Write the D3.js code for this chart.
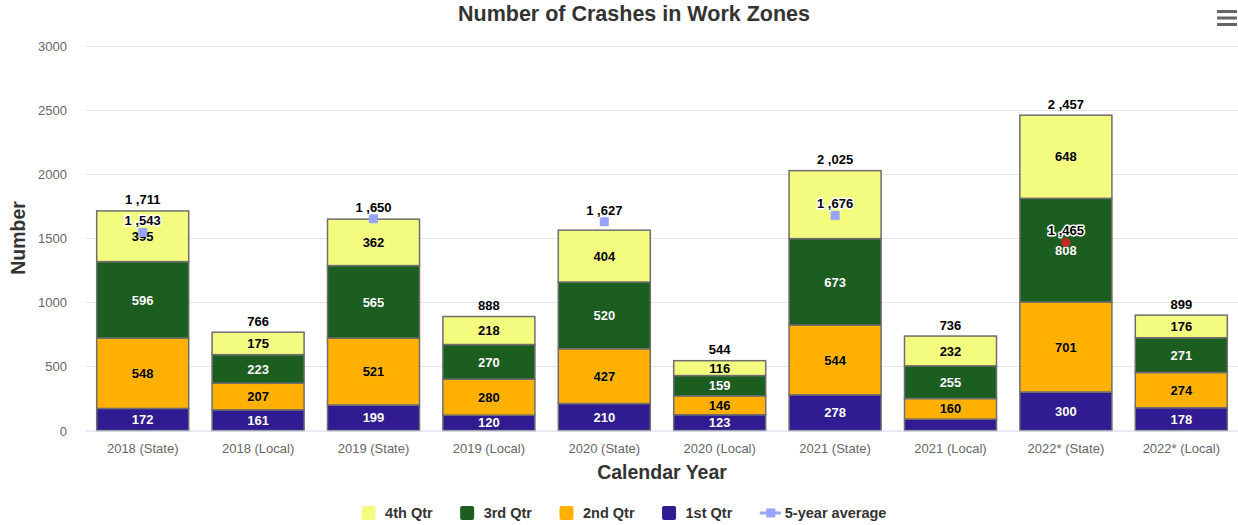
<!DOCTYPE html>
<html>
<head>
<meta charset="utf-8">
<script src="https://cdn.jsdelivr.net/npm/d3@7"></script>
<style>
  html, body { margin: 0; padding: 0; background: #fff; }
  svg { display: block; font-family: "Liberation Sans", Arial, Helvetica, sans-serif; }
</style>
</head>
<body>
<svg id="chart" width="1238" height="525"></svg>
<script>
const categories = ["2018 (State)", "2018 (Local)", "2019 (State)", "2019 (Local)", "2020 (State)", "2020 (Local)", "2021 (State)", "2021 (Local)", "2022* (State)", "2022* (Local)"];
const q1 = [172, 161, 199, 120, 210, 123, 278, 89, 300, 178];
const q2 = [548, 207, 521, 280, 427, 146, 544, 160, 701, 274];
const q3 = [596, 223, 565, 270, 520, 159, 673, 255, 808, 271];
const q4 = [395, 175, 362, 218, 404, 116, 530, 232, 648, 176];
const fiveYearAvg = [1543, null, 1650, null, 1627, null, 1676, null, 1465, null];
const yTicks = [0, 500, 1000, 1500, 2000, 2500, 3000];

const seriesDefs = [
  { name: "1st Qtr", values: q1, color: "#311b92", text: "#fff", outline: "#000" },
  { name: "2nd Qtr", values: q2, color: "#ffb000", text: "#000", outline: "#fff" },
  { name: "3rd Qtr", values: q3, color: "#1b5e20", text: "#fff", outline: "#000" },
  { name: "4th Qtr", values: q4, color: "#f4fc80", text: "#000", outline: "#fff" }
];
const avgColor = "#97a4fb";
const lastAvgColor = "#c62828";

const svg = d3.select("#chart");
const plot = { left: 85, right: 1239, top: 45.5, bottom: 430.5 };

const x = d3.scaleBand().domain(categories).range([plot.left, plot.right]).padding(0);
const y = d3.scaleLinear().domain([0, 3000]).range([plot.bottom, plot.top]);
const barW = x.bandwidth() * 0.806;
const barX = c => x(c) + (x.bandwidth() - barW) / 2;
const cx = c => x(c) + x.bandwidth() / 2;

function fmt(v) {
  if (v >= 1000) {
    const th = Math.floor(v / 1000);
    const rest = String(v % 1000).padStart(3, "0");
    return th + " ," + rest;
  }
  return String(v);
}
const overlaps = (a, b) => !(a.bottom < b.top || a.top > b.bottom);

// Grid
svg.append("g").selectAll("line").data(yTicks.filter(t => t > 0)).join("line")
  .attr("x1", plot.left).attr("x2", plot.right)
  .attr("y1", d => Math.round(y(d)) + 0.5).attr("y2", d => Math.round(y(d)) + 0.5)
  .attr("stroke", "#e6e6e6").attr("stroke-width", 1);

// Y axis labels
const yAxis = d3.axisLeft(y).tickValues(yTicks).tickSize(0).tickPadding(0).tickFormat(d3.format("d"));
const yg = svg.append("g").attr("transform", `translate(67,0)`).call(yAxis);
yg.select(".domain").remove();
yg.selectAll("text").attr("fill", "#666").attr("font-size", "13px").attr("font-family", null).attr("dy", "0.35em");

// Stacked data
const stackData = categories.map((c, i) => {
  const o = { cat: c };
  seriesDefs.forEach(s => o[s.name] = s.values[i]);
  return o;
});
const stack = d3.stack().keys(seriesDefs.map(s => s.name));
const layers = stack(stackData);

const barsG = svg.append("g");
layers.forEach((layer, li) => {
  const s = seriesDefs[li];
  barsG.append("g").selectAll("rect").data(layer).join("rect")
    .attr("x", d => barX(d.data.cat) + 0.5)
    .attr("width", barW - 1)
    .attr("y", d => y(d[1]))
    .attr("height", d => y(d[0]) - y(d[1]))
    .attr("fill", s.color)
    .attr("stroke", "#6e6e6e")
    .attr("stroke-width", 1.5);
});

// X axis line
svg.append("line").attr("x1", plot.left).attr("x2", plot.right)
  .attr("y1", plot.bottom + 0.5).attr("y2", plot.bottom + 0.5)
  .attr("stroke", "#ccd6eb").attr("stroke-width", 1);

// Average series points and their label boxes
const avgPts = categories.map((c, i) => ({ cat: c, v: fiveYearAvg[i], last: i === 8 })).filter(d => d.v != null);
const avgLabelBoxes = avgPts.map(d => {
  const ly = y(d.v) - 7;
  return { cat: d.cat, ly, top: ly - 11, bottom: ly + 1 };
});

// Data labels inside segments (hidden if too small or colliding with an average label)
const labelsG = svg.append("g");
layers.forEach((layer, li) => {
  const s = seriesDefs[li];
  const visible = layer.filter(d => {
    if (y(d[0]) - y(d[1]) < 13) return false;
    const my = (y(d[0]) + y(d[1])) / 2;
    const box = { top: my - 6, bottom: my + 6 };
    return !avgLabelBoxes.some(b => b.cat === d.data.cat && overlaps(box, b));
  });
  labelsG.append("g").selectAll("text").data(visible).join("text")
    .attr("x", d => cx(d.data.cat))
    .attr("y", d => (y(d[0]) + y(d[1])) / 2)
    .attr("dy", "0.36em")
    .attr("text-anchor", "middle")
    .attr("font-size", "13px").attr("font-weight", "bold")
    .attr("fill", s.text)
    .attr("stroke", s.outline).attr("stroke-width", 0.6).attr("stroke-opacity", 0.35)
    .attr("paint-order", "stroke")
    .text(d => d.data[s.name]);
});

// Stack totals (hidden when overlapping an average label)
const totalsG = svg.append("g");
stackData.forEach((d, i) => {
  const total = q1[i] + q2[i] + q3[i] + q4[i];
  const ly = y(total) - 6.5;
  const box = { top: ly - 11, bottom: ly + 1 };
  if (avgLabelBoxes.some(b => b.cat === d.cat && overlaps(box, b))) return;
  totalsG.append("text").attr("x", cx(d.cat)).attr("y", ly)
    .attr("text-anchor", "middle").attr("font-size", "13px").attr("font-weight", "bold")
    .attr("fill", "#000").text(fmt(total));
});

// Average markers + labels
const avgG = svg.append("g");
avgPts.forEach(d => {
  if (d.last) {
    avgG.append("circle").attr("cx", cx(d.cat)).attr("cy", y(d.v)).attr("r", 4.5).attr("fill", lastAvgColor);
  } else {
    avgG.append("rect").attr("x", cx(d.cat) - 4.5).attr("y", y(d.v) - 4.5).attr("width", 9).attr("height", 9).attr("fill", avgColor);
  }
});
avgPts.forEach((d, i) => {
  avgG.append("text").attr("x", cx(d.cat)).attr("y", avgLabelBoxes[i].ly)
    .attr("text-anchor", "middle").attr("font-size", "13px").attr("font-weight", "bold")
    .attr("fill", "#000").attr("stroke", "#fff").attr("stroke-width", 3).attr("stroke-linejoin", "round")
    .attr("paint-order", "stroke")
    .text(fmt(d.v));
});

// X axis labels
const xAxis = d3.axisBottom(x).tickSize(0).tickPadding(0);
const xg = svg.append("g").attr("transform", `translate(0,${plot.bottom})`).call(xAxis);
xg.select(".domain").remove();
xg.selectAll("text").attr("fill", "#666").attr("font-size", "13px").attr("font-family", null).attr("y", 22).attr("dy", 0);

// Titles
svg.append("text").attr("x", 634).attr("y", 21).attr("text-anchor", "middle")
  .attr("font-size", "21.5px").attr("font-weight", "bold").attr("fill", "#333")
  .text("Number of Crashes in Work Zones");
svg.append("text").attr("x", 662).attr("y", 479).attr("text-anchor", "middle")
  .attr("font-size", "19.5px").attr("font-weight", "bold").attr("fill", "#333")
  .text("Calendar Year");
svg.append("text").attr("transform", "translate(25,238) rotate(-90)").attr("text-anchor", "middle")
  .attr("font-size", "19.5px").attr("font-weight", "bold").attr("fill", "#333")
  .text("Number");

// Legend
const legendItems = [
  { name: "4th Qtr", color: seriesDefs[3].color, type: "box" },
  { name: "3rd Qtr", color: seriesDefs[2].color, type: "box" },
  { name: "2nd Qtr", color: seriesDefs[1].color, type: "box" },
  { name: "1st Qtr", color: seriesDefs[0].color, type: "box" },
  { name: "5-year average", color: avgColor, type: "line" }
];
const lg = svg.append("g");
let lx = 0;
const legendY = 513;
const itemGap = 27.5;
legendItems.forEach(it => {
  const g = lg.append("g").attr("transform", `translate(${lx},0)`);
  let sw, pad;
  if (it.type === "box") {
    sw = 14; pad = 9.5;
    g.append("rect").attr("x", 0).attr("y", legendY - 7).attr("width", 14).attr("height", 14).attr("rx", 2).attr("fill", it.color);
  } else {
    sw = 21; pad = 4;
    g.append("line").attr("x1", 0).attr("x2", 21).attr("y1", legendY).attr("y2", legendY).attr("stroke", it.color).attr("stroke-width", 3);
    g.append("rect").attr("x", 6.5).attr("y", legendY - 4.5).attr("width", 9).attr("height", 9).attr("fill", it.color);
  }
  const t = g.append("text").attr("x", sw + pad).attr("y", legendY).attr("dy", "0.35em")
    .attr("font-size", "14.5px").attr("font-weight", "bold").attr("fill", "#333").text(it.name);
  const tw = t.node().getComputedTextLength();
  lx += sw + pad + tw + itemGap;
});
const totalW = lx - itemGap;
lg.attr("transform", `translate(${624 - totalW / 2},0)`);

// Hamburger menu
const menu = svg.append("g").attr("stroke", "#666").attr("stroke-width", 3).attr("stroke-linecap", "butt");
[11.5, 18, 24.5].forEach(yy => menu.append("line").attr("x1", 1217).attr("x2", 1237).attr("y1", yy).attr("y2", yy));
</script>
</body>
</html>
